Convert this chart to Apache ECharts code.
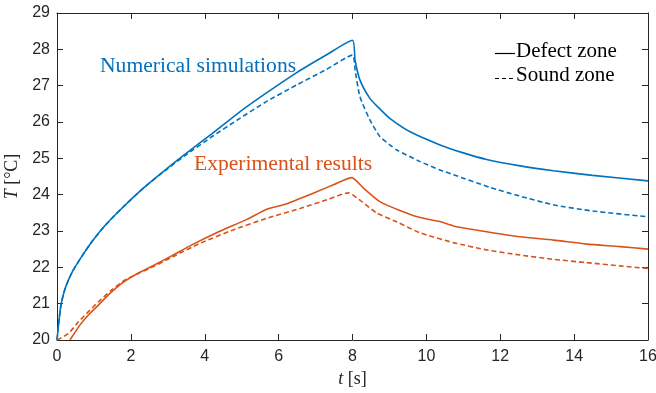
<!DOCTYPE html>
<html>
<head>
<meta charset="utf-8">
<script src="https://cdn.jsdelivr.net/npm/echarts@6/dist/echarts.min.js"></script>
<style>html,body{margin:0;padding:0;background:#fff;}#c{width:656px;height:393px;}</style>
</head>
<body>
<div id="c"></div>
<script>
// Tick labels
const xTicks = [0, 2, 4, 6, 8, 10, 12, 14, 16];
const yTicks = [20, 21, 22, 23, 24, 25, 26, 27, 28, 29];
const legendLabels = ['Defect zone', 'Sound zone'];

// Numerical simulations – defect zone (solid blue)
const numDefectT = [0, 0.05, 0.11, 0.22, 0.4, 0.67, 0.94, 1.3, 1.75, 2.36, 3.0, 3.46, 4.2, 4.95, 5.7, 6.49, 7.3, 8.0, 8.07, 8.2, 8.47, 8.7, 9.01, 9.56, 10.37, 11.0, 11.63, 12.5, 13.44, 14.5, 16];
const numDefectV = [20, 20.5, 20.98, 21.42, 21.85, 22.3, 22.7, 23.15, 23.62, 24.2, 24.74, 25.11, 25.68, 26.28, 26.82, 27.36, 27.85, 28.25, 27.7, 27.16, 26.65, 26.4, 26.1, 25.73, 25.37, 25.15, 24.97, 24.8, 24.66, 24.53, 24.38];

// Numerical simulations – sound zone (dashed blue)
const numSoundT = [0, 0.05, 0.11, 0.22, 0.4, 0.67, 0.94, 1.3, 1.75, 2.36, 3.0, 3.46, 4.2, 4.95, 5.7, 6.49, 7.3, 8.0, 8.07, 8.2, 8.47, 8.74, 9.0, 9.2, 9.83, 10.37, 10.73, 11.72, 12.5, 13.44, 14.5, 16];
const numSoundV = [20, 20.5, 20.98, 21.42, 21.85, 22.3, 22.7, 23.15, 23.62, 24.2, 24.72, 25.07, 25.6, 26.1, 26.58, 27.02, 27.45, 27.84, 27.43, 26.7, 26.06, 25.6, 25.38, 25.23, 24.91, 24.68, 24.55, 24.2, 23.97, 23.72, 23.55, 23.39];

// Experimental results – defect zone (solid orange)
const expDefectT = [0.35, 0.62, 0.85, 1.12, 1.39, 1.75, 2.11, 2.65, 3.15, 3.6, 4.32, 5.14, 5.68, 6.13, 7.03, 7.5, 7.98, 8.3, 8.74, 9.37, 9.83, 10.37, 10.73, 11.63, 12.53, 13.44, 14.34, 15.24, 16];
const expDefectV = [20, 20.41, 20.69, 20.96, 21.24, 21.56, 21.79, 22.07, 22.34, 22.59, 22.95, 23.32, 23.6, 23.72, 24.08, 24.28, 24.47, 24.18, 23.81, 23.53, 23.37, 23.26, 23.14, 22.98, 22.84, 22.75, 22.64, 22.57, 22.5];

// Experimental results – sound zone (dashed orange)
const expSoundT = [0, 0.31, 0.58, 0.85, 1.12, 1.48, 1.84, 2.2, 2.65, 3.15, 3.87, 4.77, 5.68, 6.58, 7.34, 7.89, 8.2, 8.65, 9.2, 9.83, 10.73, 11.63, 12.53, 13.44, 14.34, 15.24, 16];
const expSoundV = [20, 20.18, 20.5, 20.78, 21.05, 21.38, 21.65, 21.83, 22.04, 22.3, 22.66, 23.03, 23.35, 23.62, 23.87, 24.05, 23.85, 23.5, 23.25, 22.95, 22.68, 22.48, 22.34, 22.22, 22.13, 22.04, 21.97];

const BLUE = '#0072BD', ORANGE = '#D95319', AX = '#262626';
const pair = (t, v) => t.map((x, i) => [x, v[i]]);
const SERIF = '"Liberation Serif", "Times New Roman", serif';
const SANS = '"Liberation Sans", Arial, Helvetica, sans-serif';

const chart = echarts.init(document.getElementById('c'), null, {renderer: 'canvas'});

const axisCommon = {
  type: 'value',
  splitLine: {show: false},
  axisLine: {show: true, onZero: false, lineStyle: {color: AX, width: 1}},
  axisTick: {show: true, inside: true, length: 6, lineStyle: {color: AX, width: 1}}
};

const lineSeries = (name, t, v, color, dashed) => ({
  name, type: 'line', data: pair(t, v), showSymbol: false, symbol: 'none',
  smooth: 0.2,
  lineStyle: {color, width: 1.6, type: dashed ? [5, 3] : 'solid'}, itemStyle: {color}
});

chart.setOption({
  backgroundColor: '#fff',
  animation: false,
  grid: {left: 57, right: 8, top: 13, bottom: 53, containLabel: false, outerBoundsMode: 'none'},
  xAxis: [
    Object.assign({}, axisCommon, {
      min: 0, max: 16, interval: 2, position: 'bottom',
      axisLabel: {color: AX, fontSize: 16, fontFamily: SANS, margin: 9, formatter: v => xTicks.includes(v) ? String(v) : ''},
      name: '{i|t} [s]', nameLocation: 'middle', nameGap: 28,
      nameTextStyle: {fontFamily: SERIF, fontSize: 18, color: AX, rich: {i: {fontStyle: 'italic', fontFamily: SERIF, fontSize: 18, color: AX}}}
    }),
    Object.assign({}, axisCommon, {min: 0, max: 16, interval: 2, position: 'top', axisLabel: {show: false}})
  ],
  yAxis: [
    Object.assign({}, axisCommon, {
      min: 20, max: 29, interval: 1, position: 'left',
      axisLabel: {color: AX, fontSize: 16, fontFamily: SANS, margin: 7, formatter: v => yTicks.includes(v) ? String(v) : ''},
      name: '{i|T} [°C]', nameLocation: 'middle', nameRotate: 90, nameGap: 33,
      nameTextStyle: {fontFamily: SERIF, fontSize: 18, color: AX, rich: {i: {fontStyle: 'italic', fontFamily: SERIF, fontSize: 18, color: AX}}}
    }),
    Object.assign({}, axisCommon, {min: 20, max: 29, interval: 1, position: 'right', axisLabel: {show: false}})
  ],
  series: [
    lineSeries('Num defect', numDefectT, numDefectV, BLUE, false),
    lineSeries('Num sound', numSoundT, numSoundV, BLUE, true),
    lineSeries('Exp defect', expDefectT, expDefectV, ORANGE, false),
    lineSeries('Exp sound', expSoundT, expSoundV, ORANGE, true)
  ],
  graphic: [
    {type: 'text', left: 100, top: 55.5, style: {text: 'Numerical simulations', fill: BLUE, font: '21.6px ' + SERIF}},
    {type: 'text', left: 194, top: 153.5, style: {text: 'Experimental results', fill: ORANGE, font: '21.6px ' + SERIF}},
    {type: 'line', shape: {x1: 495, y1: 53.5, x2: 515, y2: 53.5}, style: {stroke: '#000', lineWidth: 1.2}},
    {type: 'text', left: 516, top: 40.5, style: {text: legendLabels[0], fill: '#000', font: '21px ' + SERIF}},
    {type: 'line', shape: {x1: 495, y1: 78.5, x2: 515, y2: 78.5}, style: {stroke: '#000', lineWidth: 1.2, lineDash: [4, 3]}},
    {type: 'text', left: 516, top: 64.5, style: {text: legendLabels[1], fill: '#000', font: '21px ' + SERIF}}
  ]
});
</script>
</body>
</html>
